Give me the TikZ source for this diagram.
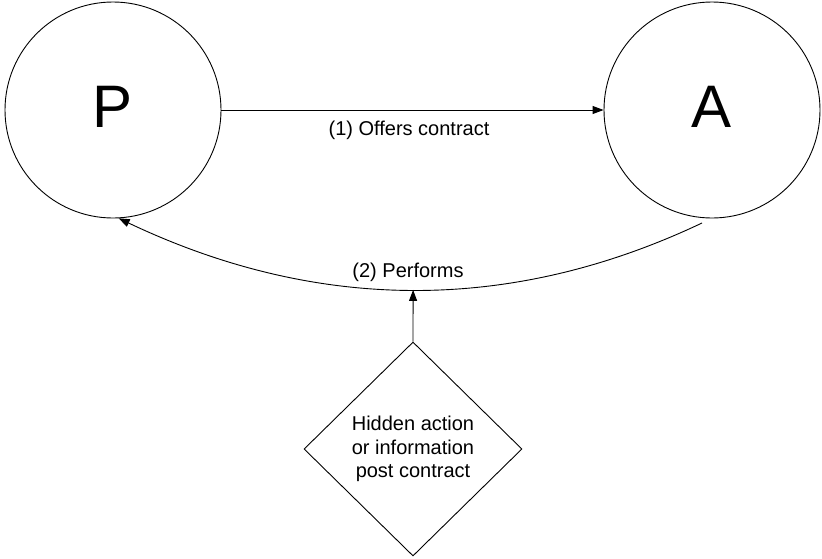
\documentclass[tikz,border=0pt]{standalone}
\usepackage{fontspec}
\setmainfont{Liberation Sans}
\usetikzlibrary{arrows.meta,shapes.geometric}
\begin{document}
\begin{tikzpicture}[x=1pt,y=-1pt,
  every path/.style={line width=0.9pt},
  party/.style={draw, circle, minimum size=216pt, inner sep=0pt,
    font=\fontsize{60}{60}\selectfont, text depth=7pt},
  lbl/.style={font=\fontsize{20}{23}\selectfont, inner sep=0pt},
  hidden/.style={draw, diamond, minimum width=218pt, minimum height=214pt,
    inner sep=0pt, align=center, font=\fontsize{20}{23.5}\selectfont},
  flow/.style={-{Triangle[length=11pt,width=8pt]}}]
\useasboundingbox (0,0) rectangle (822,558);

% the two parties
\node[party] (P) at (113,110) {P};
\node[party] (A) at (712,110) {A};

% step 1: contract offered
\draw[flow] (P) -- (A);
\node[lbl] (offer) at (409,130.5) {(1) Offers contract};

% step 2: performance returned along a curve
\coordinate (astart) at (702,223);
\draw[flow] (astart) .. controls (511,313.5) and (317,312.5) .. coordinate[pos=0.5] (perf) (P.-87);
\node[lbl] (performs) at (408,272.5) {(2) Performs};

% information asymmetry feeding into performance
\node[hidden] (H) at (413,449) {Hidden action\\or information\\post contract};
\draw[flow] (H.north) -- (perf);
\end{tikzpicture}
\end{document}
